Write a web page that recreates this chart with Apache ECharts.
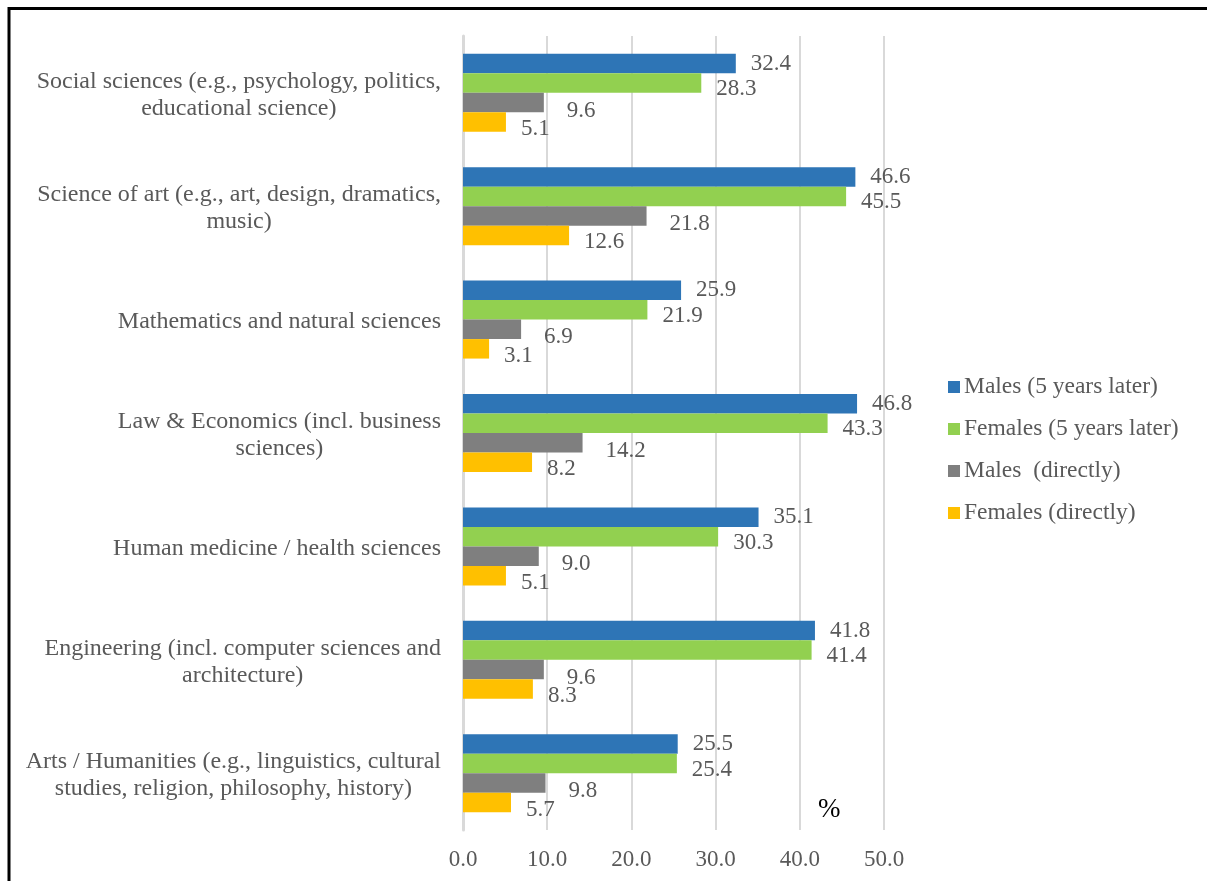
<!DOCTYPE html>
<html>
<head>
<meta charset="utf-8">
<script src="https://cdn.jsdelivr.net/npm/echarts@6/dist/echarts.min.js"></script>
<style>
  html, body { margin: 0; padding: 0; background: #fff; }
  #chart { width: 1207px; height: 881px; }
</style>
</head>
<body>
<div id="chart"></div>
<script>
// Fields of study, listed top to bottom
const categories = [
  'Social sciences (e.g., psychology, politics,\neducational science)',
  'Science of art (e.g., art, design, dramatics,\nmusic)',
  'Mathematics and natural sciences',
  'Law & Economics (incl. business\nsciences)',
  'Human medicine / health sciences',
  'Engineering (incl. computer sciences and\narchitecture)',
  'Arts / Humanities (e.g., linguistics, cultural\nstudies, religion, philosophy, history)'
];

const seriesNames = [
  'Males (5 years later)',
  'Females (5 years later)',
  'Males  (directly)',
  'Females (directly)'
];

const malesLater    = [32.4, 46.6, 25.9, 46.8, 35.1, 41.8, 25.5];
const femalesLater  = [28.3, 45.5, 21.9, 43.3, 30.3, 41.4, 25.4];
const malesDirect   = [9.6, 21.8, 6.9, 14.2, 9.0, 9.6, 9.8];
const femalesDirect = [5.1, 12.6, 3.1, 8.2, 5.1, 8.3, 5.7];

const xTicks = [0, 10, 20, 30, 40, 50];

const colors = ['#2e75b6', '#92d050', '#7f7f7f', '#ffc000'];
const labelOffsets = [[0, 0], [0, 6], [8, 8], [0, 7]];
const values = [malesLater, femalesLater, malesDirect, femalesDirect];

const serif = '"Liberation Serif", "DejaVu Serif", serif';
const textGrey = '#595959';

const chart = echarts.init(document.getElementById('chart'));

chart.setOption({
  animation: false,
  backgroundColor: '#fff',
  textStyle: { fontFamily: serif },
  grid: { left: 463, right: 323, top: 36, bottom: 51, containLabel: false },
  legend: {
    orient: 'vertical',
    left: 943,
    top: 370,
    itemWidth: 12,
    itemHeight: 12,
    itemGap: 18,
    icon: 'rect',
    data: seriesNames,
    textStyle: { fontFamily: serif, fontSize: 23.5, color: textGrey, lineHeight: 24, padding: [0, 0, 0, -1] }
  },
  xAxis: {
    type: 'value',
    min: xTicks[0],
    max: xTicks[xTicks.length - 1],
    interval: 10,
    axisLine: { show: false },
    axisTick: { show: false },
    splitLine: { show: true, lineStyle: { color: '#d9d9d9', width: 2 } },
    axisLabel: {
      fontFamily: serif, fontSize: 23, color: textGrey, margin: 18,
      formatter: v => v.toFixed(1)
    }
  },
  yAxis: {
    type: 'category',
    inverse: true,
    data: categories,
    axisLine: { show: true, lineStyle: { color: '#d9d9d9', width: 3 } },
    axisTick: { show: false },
    axisLabel: {
      margin: 22,
      align: 'right',
      padding: [4, 0, 0, 0],
      formatter: v => v.split('\n').map(l => '{c|' + l + '}').join('\n'),
      rich: {
        c: { align: 'center', fontFamily: serif, fontSize: 24, color: textGrey, lineHeight: 27 }
      }
    }
  },
  series: seriesNames.map((name, i) => ({
    name,
    type: 'bar',
    data: values[i],
    barWidth: 19.5,
    barGap: '0%',
    itemStyle: { color: colors[i] },
    label: {
      show: true,
      position: 'right',
      distance: 15,
      offset: labelOffsets[i],
      fontFamily: serif,
      fontSize: 23,
      color: textGrey,
      formatter: p => p.value.toFixed(1)
    }
  })),
  graphic: [
    {
      type: 'rect',
      shape: { x: 9, y: 8.5, width: 1400, height: 1000 },
      style: { fill: 'none', stroke: '#000', lineWidth: 3 },
      silent: true
    },
    {
      type: 'text',
      left: 818,
      top: 796,
      style: { text: '%', font: '27px ' + serif, fill: '#000' }
    }
  ]
});
</script>
</body>
</html>
